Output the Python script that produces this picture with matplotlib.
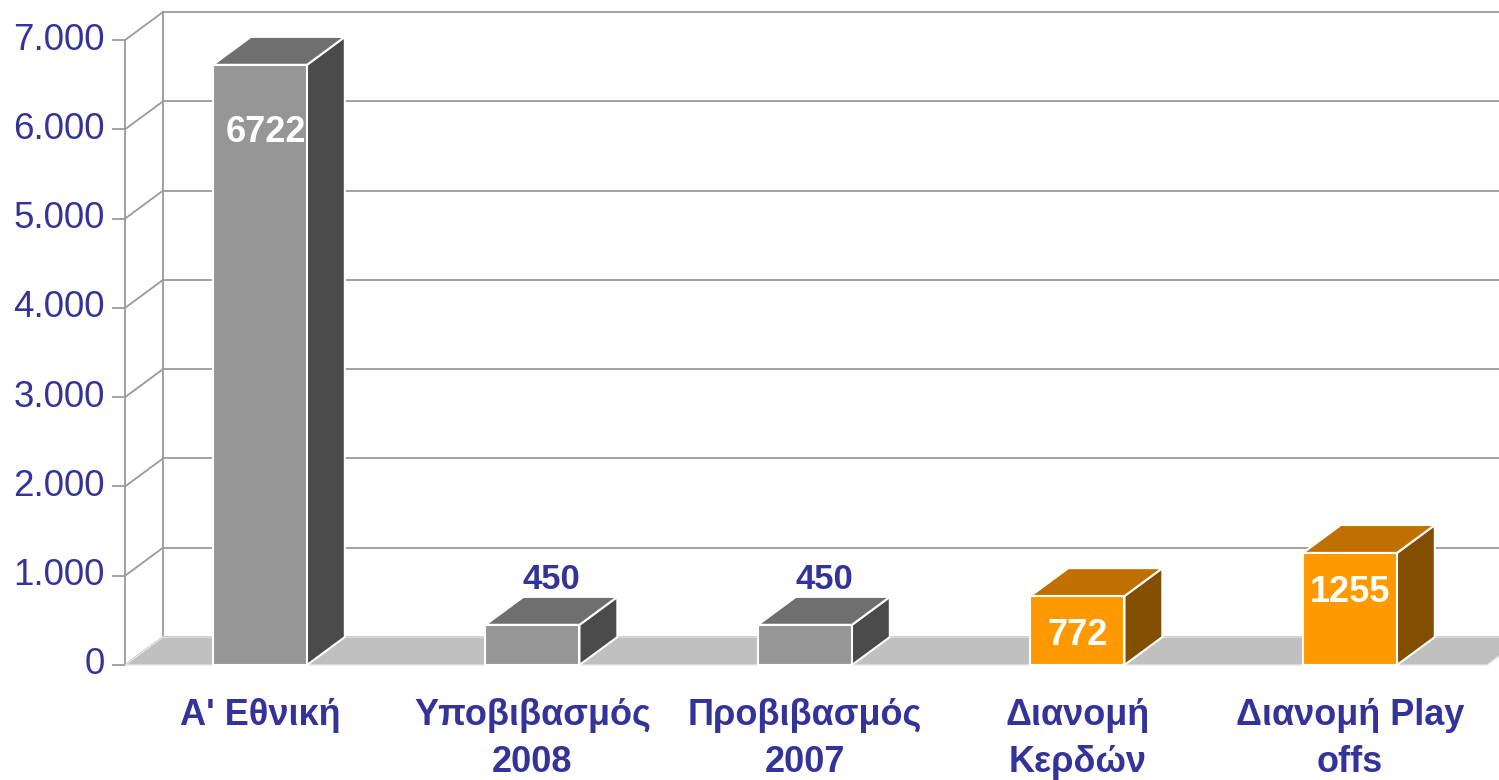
import matplotlib.pyplot as plt
from matplotlib.patches import Polygon

categories = ["A' Εθνική", "Υποβιβασμός\n2008", "Προβιβασμός\n2007",
              "Διανομή\nΚερδών", "Διανομή Play\noffs"]
values = [6722, 450, 450, 772, 1255]
highlight = [False, False, False, True, True]
y_ticks = [0, 1000, 2000, 3000, 4000, 5000, 6000, 7000]

plt.rcParams["font.family"] = ["Liberation Sans", "DejaVu Sans"]

TEXT = "#333399"
GRID = "#9a9a9a"
grey_faces = ("#969696", "#6f6f6f", "#4b4b4b")    # front, top, side
orange_faces = ("#ff9900", "#c07000", "#824e00")

# 3d-ish geometry in data units
depth_x, depth_y = 0.139, 313
bar_w = 0.345
axis_x = -0.495
floor_end = 4.503

fig = plt.figure(figsize=(14.99, 7.80), dpi=100)
ax = fig.add_axes([0, 0, 1, 1])
ax.set_xlim(-0.954, 4.547)
ax.set_ylim(-1288, 7448)
ax.axis("off")

# back wall grid + left wall diagonals
top = y_ticks[-1]
ax.plot([axis_x + depth_x, axis_x + depth_x], [depth_y, top + depth_y], color=GRID, lw=1.3, zorder=1)
ax.plot([axis_x, axis_x], [0, top], color=GRID, lw=1.3, zorder=1)
for t in y_ticks:
    ax.plot([axis_x + depth_x, 5.2], [t + depth_y, t + depth_y], color=GRID, lw=1.3, zorder=1)
    ax.plot([axis_x, axis_x + depth_x], [t, t + depth_y], color=GRID, lw=1.3, zorder=1)
    ax.plot([axis_x - 0.044, axis_x], [t, t], color=GRID, lw=1.3, zorder=1)
    ax.text(axis_x - 0.074, t, f"{t:,}".replace(",", "."), ha="right", va="center",
            fontsize=26.5, color=TEXT)

# floor
floor = Polygon([(axis_x, 0), (axis_x + depth_x, depth_y), (floor_end + depth_x, depth_y),
                 (floor_end, 0)], closed=True, facecolor="#c0c0c0", edgecolor="#e6e6e6",
                lw=1, zorder=2)
ax.add_patch(floor)

# bars
for i, (v, hl) in enumerate(zip(values, highlight)):
    front_c, top_c, side_c = orange_faces if hl else grey_faces
    x0, x1 = i - bar_w / 2, i + bar_w / 2
    front = [(x0, 0), (x1, 0), (x1, v), (x0, v)]
    side = [(x1, 0), (x1 + depth_x, depth_y), (x1 + depth_x, v + depth_y), (x1, v)]
    topf = [(x0, v), (x1, v), (x1 + depth_x, v + depth_y), (x0 + depth_x, v + depth_y)]
    for pts, c in ((side, side_c), (topf, top_c), (front, front_c)):
        ax.add_patch(Polygon(pts, closed=True, facecolor=c, edgecolor="white", lw=1.5, zorder=3))

    label = str(v)
    if v > 3000:
        ax.text(i + 0.02, v - 760, label, ha="center", va="center", fontsize=26,
                fontweight="bold", color="white", zorder=5)
    elif v > 600:
        ax.text(i, v - 440, label, ha="center", va="center", fontsize=26,
                fontweight="bold", color="white", zorder=5)
    else:
        ax.text(i + depth_x / 2, v + depth_y + 190, label, ha="center", va="center",
                fontsize=25, fontweight="bold", color=TEXT, zorder=5)

# category labels
for i, cat in enumerate(categories):
    ax.text(i, -370, cat, ha="center", va="top", fontsize=26, fontweight="bold",
            color=TEXT, linespacing=1.45)

fig.savefig("out.png", dpi=100)
